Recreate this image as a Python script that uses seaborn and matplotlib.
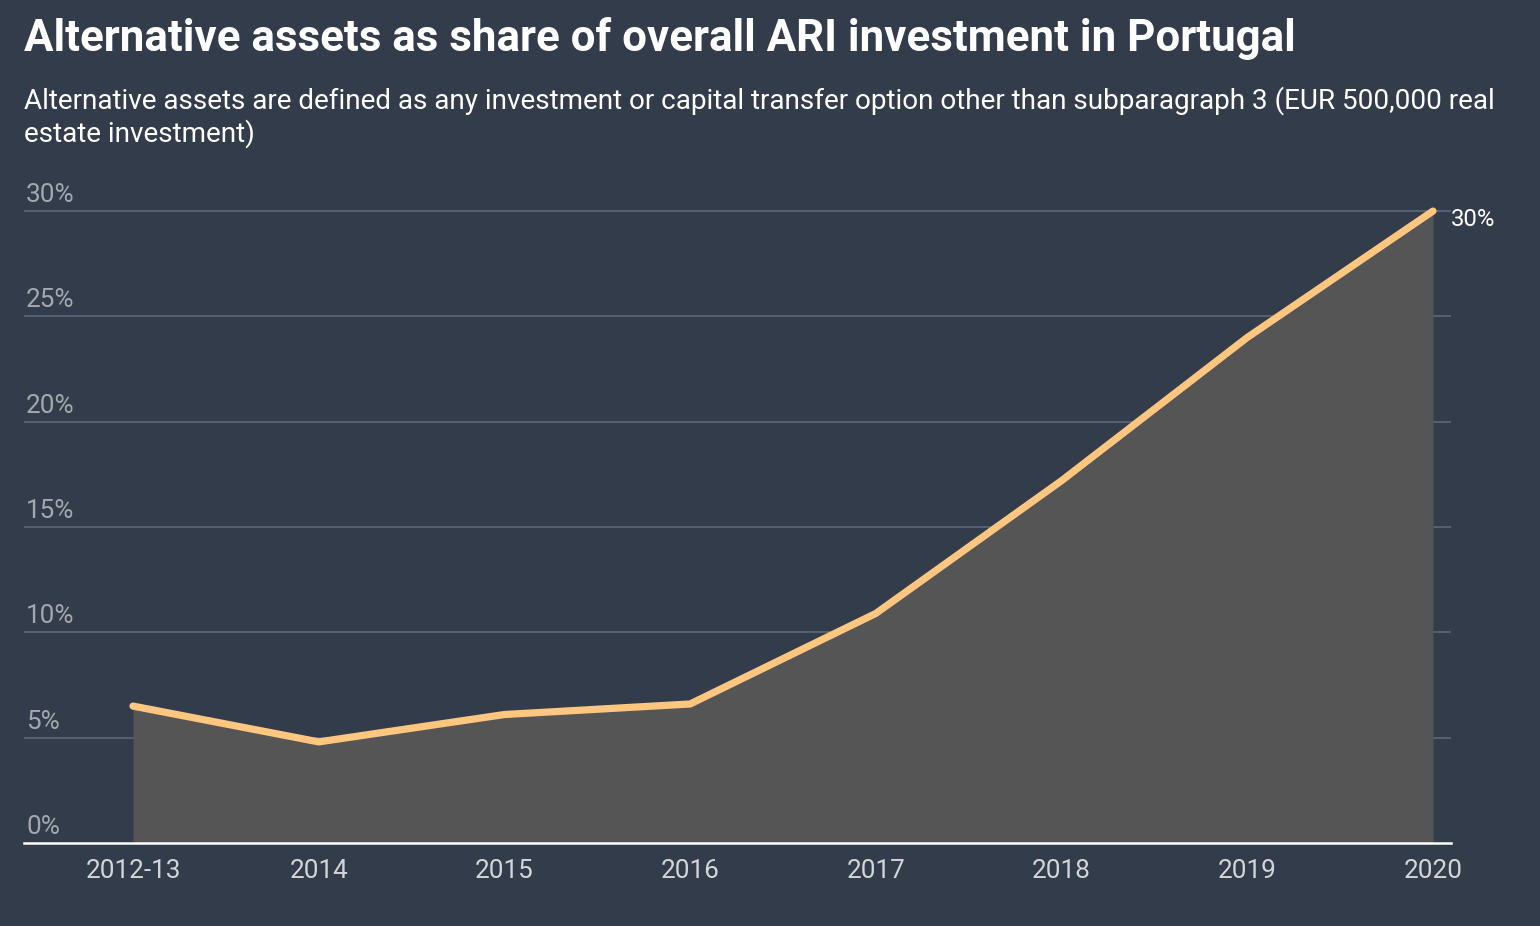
import numpy as np
import pandas as pd
import matplotlib
matplotlib.use('Agg')
import matplotlib.pyplot as plt
import seaborn as sns

# Данные
years = ['2012-13', '2014', '2015', '2016', '2017', '2018', '2019', '2020']
share = [6.5, 4.8, 6.1, 6.6, 10.9, 17.2, 24.0, 30.0]
y_ticks = [0, 5, 10, 15, 20, 25, 30]
y_tick_labels = ['0%', '5%', '10%', '15%', '20%', '25%', '30%']

title = 'Alternative assets as share of overall ARI investment in Portugal'
subtitle = ('Alternative assets are defined as any investment or capital transfer option other than subparagraph 3 (EUR 500,000 real\n'
            'estate investment)')

# Цвета
BG = '#323c4a'
FILL = '#555555'
LINE = '#ffc680'
GRID = '#566071'
YTXT = '#a3a7ae'
XTXT = '#d3d5d9'

sns.set_theme(style='white')
plt.rcParams['font.family'] = ['Roboto', 'DejaVu Sans']

df = pd.DataFrame({'x': np.arange(len(years)), 'share': share})

fig = plt.figure(figsize=(15.4, 9.26), dpi=100, facecolor=BG)
ax = fig.add_axes([24 / 1540, (926 - 843) / 926, (1451 - 24) / 1540, (843 - 190) / 926])
ax.set_facecolor(BG)

ax.fill_between(df['x'], 0, df['share'], color=FILL, lw=0, zorder=2)
sns.lineplot(data=df, x='x', y='share', ax=ax, color=LINE, lw=5.2,
             solid_capstyle='round', solid_joinstyle='round', zorder=4, clip_on=False)

ax.set_xlim(-0.587, 7.097)
ax.set_ylim(0, 31)

# Сетка и подписи по оси Y
for v, lab in zip(y_ticks, y_tick_labels):
    if v > 0:
        ax.axhline(v, color=GRID, lw=1.4, zorder=1)
    ax.annotate(lab, xy=(0, v), xycoords=ax.get_yaxis_transform(),
                xytext=(1.5, 3), textcoords='offset points',
                ha='left', va='bottom', fontsize=18.8, color=YTXT)

ax.set_yticks([])
ax.set_xticks(df['x'])
ax.set_xticklabels(years, fontsize=18.8, color=XTXT)
ax.tick_params(axis='x', length=0, pad=11.5)
ax.set_xlabel('')
ax.set_ylabel('')

for s in ['top', 'right', 'left']:
    ax.spines[s].set_visible(False)
ax.spines['bottom'].set_color('white')
ax.spines['bottom'].set_linewidth(1.8)
ax.spines['bottom'].set_zorder(5)

# Подпись последнего значения
ax.annotate(f'{share[-1]:.0f}%', xy=(df['x'].iloc[-1], share[-1]),
            xytext=(13, -6), textcoords='offset points',
            ha='left', va='center', fontsize=17.2, color='white')

fig.text(24 / 1540, 1 - 38 / 926, title, fontsize=31.6, fontweight='bold',
         color='white', ha='left', va='center')
fig.text(24 / 1540, 1 - 86 / 926, subtitle, fontsize=20.1, color='white',
         ha='left', va='top', linespacing=1.22)

fig.savefig('out.png', dpi=100, facecolor=BG)
